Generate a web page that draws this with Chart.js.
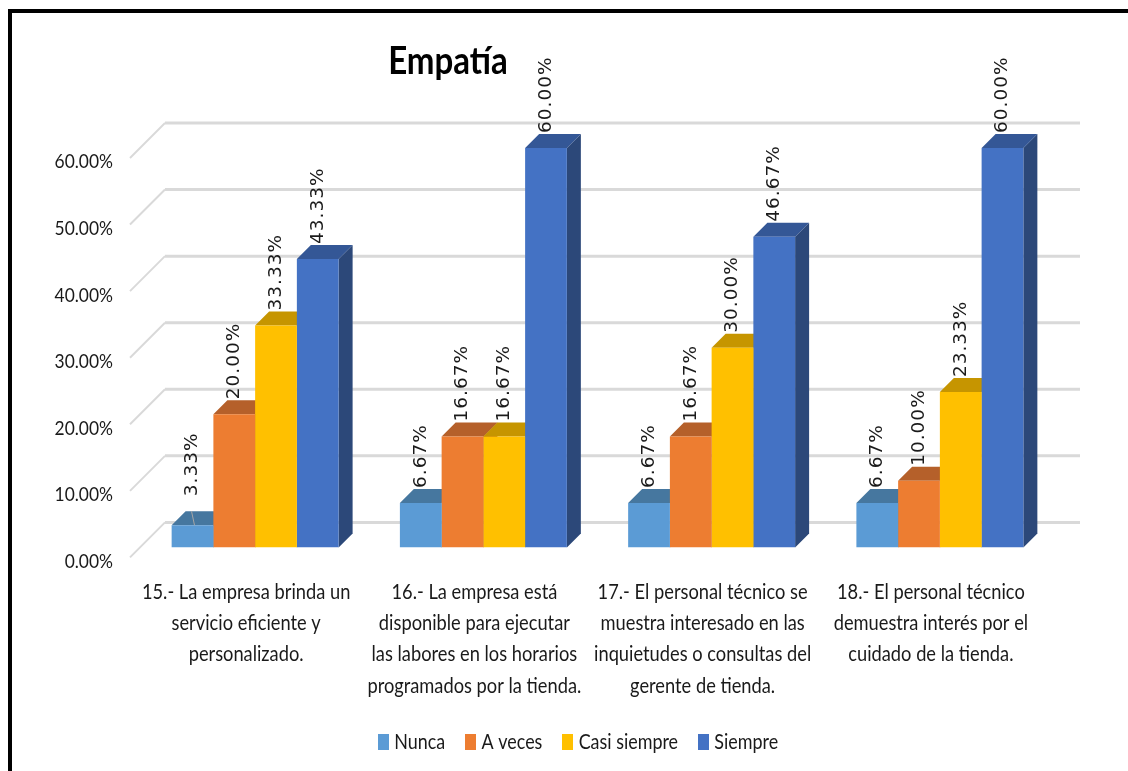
<!DOCTYPE html>
<html lang="es">
<head>
<meta charset="utf-8">
<title>Empatía</title>
<script src="https://cdn.jsdelivr.net/npm/chart.js@4/dist/chart.umd.min.js"></script>
<style>
  html, body { margin: 0; padding: 0; background: #fff; overflow: hidden; }
  #frame { position: absolute; left: 8px; top: 9px; right: 0; bottom: 0; border-top: 4px solid #000; border-left: 4px solid #000; }
  #plot { position: absolute; left: 0; top: 0; }
</style>
</head>
<body>
<div id="frame"></div>
<canvas id="plot" width="1128" height="771"></canvas>
<script>
const chartTitle = 'Empatía';
const categories = [
  ['15.- La empresa brinda un', 'servicio eficiente y', 'personalizado.'],
  ['16.- La empresa está', 'disponible para ejecutar', 'las labores en los horarios', 'programados por la tienda.'],
  ['17.- El personal técnico se', 'muestra interesado en las', 'inquietudes o consultas del', 'gerente de tienda.'],
  ['18.- El personal técnico', 'demuestra interés por el', 'cuidado de la tienda.']
];
const seriesNames = ['Nunca', 'A veces', 'Casi siempre', 'Siempre'];
const nunca = [3.33, 6.67, 6.67, 6.67];
const aVeces = [20.00, 16.67, 16.67, 10.00];
const casiSiempre = [33.33, 16.67, 30.00, 23.33];
const siempre = [43.33, 60.00, 46.67, 60.00];
const frontColors = ['#5B9BD5', '#ED7D31', '#FFC000', '#4472C4'];
const topColors = ['#46779F', '#B5602A', '#C69500', '#345796'];
const sideColors = ['#3C6890', '#A05322', '#AD8200', '#2C4879'];

const BODY_FONT = 'Lato, sans-serif';
const CONDENSE = 0.87;
const BAR_DEPTH = 14;
const WALL = { frontX: -11, frontY: 10, backX: 24, backY: -25, rightX: 26 };

const fmt = v => v.toFixed(2) + '%';

const canvas = document.getElementById('plot');
const context = canvas.getContext('2d');

// Narrows Lato text so the axis, legend and title lettering sits condensed, for layout too.
const plainFill = context.fillText.bind(context);
const plainMeasure = context.measureText.bind(context);
context.fillText = function (text, x, y, maxWidth) {
  if (!context.font.includes('Lato')) return plainFill(text, x, y, maxWidth);
  context.save();
  context.translate(x, y);
  context.scale(CONDENSE, 1);
  plainFill(text, 0, 0);
  context.restore();
};
context.measureText = function (text) {
  const m = plainMeasure(text);
  return context.font.includes('Lato') ? { width: m.width * CONDENSE } : m;
};

function swatch(color) {
  const c = document.createElement('canvas');
  c.width = 11; c.height = 16;
  const g = c.getContext('2d');
  g.fillStyle = color;
  g.fillRect(0, 0, 11, 16);
  return c;
}

// Angled gridlines and the side and top faces of each bar; Chart.js paints the front faces.
const extrusion = {
  id: 'extrusion',
  beforeDatasetsDraw(chart) {
    const { ctx, chartArea: area, scales: { y } } = chart;
    ctx.save();
    ctx.strokeStyle = '#D9D9D9';
    y.ticks.forEach(t => {
      const py = y.getPixelForValue(t.value);
      ctx.lineWidth = 2;
      ctx.beginPath();
      ctx.moveTo(area.left + WALL.frontX, py + WALL.frontY);
      ctx.lineTo(area.left + WALL.backX, py + WALL.backY);
      ctx.stroke();
      ctx.lineWidth = 3;
      ctx.beginPath();
      ctx.moveTo(area.left + WALL.backX, py + WALL.backY);
      ctx.lineTo(area.right + WALL.rightX, py + WALL.backY);
      ctx.stroke();
    });
    const d = BAR_DEPTH;
    categories.forEach((_, ci) => {
      chart.data.datasets.forEach((ds, si) => {
        const el = chart.getDatasetMeta(si).data[ci];
        const x0 = el.x - el.width / 2, x1 = el.x + el.width / 2;
        const top = el.y, base = el.base;
        ctx.fillStyle = sideColors[si];
        ctx.beginPath();
        ctx.moveTo(x1, top);
        ctx.lineTo(x1 + d, top - d);
        ctx.lineTo(x1 + d, base - d);
        ctx.lineTo(x1, base);
        ctx.closePath();
        ctx.fill();
        ctx.fillStyle = topColors[si];
        ctx.beginPath();
        ctx.moveTo(x0, top);
        ctx.lineTo(x0 + d, top - d);
        ctx.lineTo(x1 + d, top - d);
        ctx.lineTo(x1, top);
        ctx.closePath();
        ctx.fill();
      });
    });
    ctx.restore();
  },
  // Upright value labels above the bars; very short bars get a raised label with a leader.
  afterDatasetsDraw(chart) {
    const { ctx } = chart;
    ctx.save();
    ctx.fillStyle = '#1a1a1a';
    ctx.font = '18.5px "DejaVu Sans", sans-serif';
    ctx.letterSpacing = '1px';
    ctx.textBaseline = 'middle';
    ctx.textAlign = 'left';
    chart.data.datasets.forEach((ds, si) => {
      chart.getDatasetMeta(si).data.forEach((el, i) => {
        const v = ds.data[i];
        const short = v < 5;
        const lift = short ? 29 : 15;
        if (short) {
          ctx.strokeStyle = '#A6A6A6';
          ctx.lineWidth = 1;
          ctx.beginPath();
          ctx.moveTo(el.x - 1, el.y - 14);
          ctx.lineTo(el.x + 2, el.y);
          ctx.stroke();
        }
        ctx.save();
        ctx.translate(el.x, el.y - lift);
        ctx.rotate(-Math.PI / 2);
        ctx.fillText(fmt(v), 0, 0);
        ctx.restore();
      });
    });
    ctx.restore();
  },
  // Places the title over the left part of the plot and the legend on its fixed row.
  afterLayout(chart) {
    chart.titleBlock.left = 0;
    chart.titleBlock.right = 896;
    chart.legend.left = 358;
    chart.legend.right = 1128;
    chart.legend.top = 707;
  }
};

new Chart(canvas, {
  type: 'bar',
  data: {
    labels: categories,
    datasets: [nunca, aVeces, casiSiempre, siempre].map((values, i) => ({
      label: seriesNames[i],
      data: values,
      backgroundColor: frontColors[i],
      borderWidth: 0,
      categoryPercentage: 0.7315,
      barPercentage: 1
    }))
  },
  plugins: [extrusion],
  options: {
    responsive: false,
    animation: false,
    events: [],
    layout: { autoPadding: false, padding: { left: 26, right: 74, top: 0, bottom: 0 } },
    plugins: {
      tooltip: { enabled: false },
      title: {
        display: true,
        text: chartTitle,
        color: '#000',
        font: { family: BODY_FONT, size: 38, weight: 'bold', lineHeight: 1.2 },
        padding: { top: 39, bottom: 63.4 }
      },
      legend: {
        position: 'bottom',
        align: 'start',
        labels: {
          color: '#1a1a1a',
          font: { family: BODY_FONT, size: 20.6 },
          boxWidth: 1,
          boxHeight: 16,
          padding: 25,
          usePointStyle: true,
          generateLabels: chart => chart.data.datasets.map((ds, i) => ({
            text: ds.label,
            fontColor: '#1a1a1a',
            fillStyle: frontColors[i],
            strokeStyle: frontColors[i],
            lineWidth: 0,
            pointStyle: swatch(frontColors[i]),
            datasetIndex: i
          }))
        }
      }
    },
    scales: {
      x: {
        afterFit(scale) { scale.height = 168; },
        grid: { display: false, drawTicks: false },
        border: { display: false },
        ticks: {
          color: '#1a1a1a',
          font: { family: BODY_FONT, size: 21, lineHeight: 1.49 },
          padding: 29,
          labelOffset: -9,
          maxRotation: 0,
          minRotation: 0,
          autoSkip: false
        }
      },
      y: {
        min: 0,
        max: 60,
        afterFit(scale) { scale.width = 115; },
        grid: { display: false, drawTicks: false },
        border: { display: false },
        ticks: {
          stepSize: 10,
          color: '#1a1a1a',
          font: { family: BODY_FONT, size: 20 },
          padding: 28,
          labelOffset: 14,
          callback: v => fmt(v)
        }
      }
    }
  }
});
</script>
</body>
</html>
